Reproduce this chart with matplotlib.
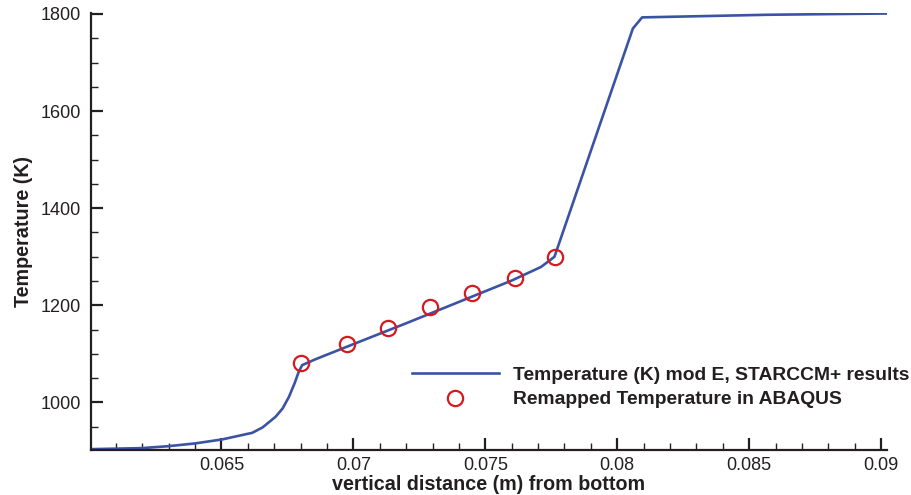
import numpy as np
import matplotlib
matplotlib.use("Agg")
import matplotlib.pyplot as plt
from matplotlib.ticker import MultipleLocator, FuncFormatter

plt.rcParams['font.family'] = ['Liberation Sans', 'DejaVu Sans']

# STARCCM+ temperature profile
dist = [0.06009, 0.06199, 0.06300, 0.06401, 0.06503, 0.06617, 0.06656,
        0.06705, 0.06732, 0.06756, 0.06777, 0.06793, 0.06806, 0.06857,
        0.07000, 0.07200, 0.07400, 0.07600, 0.07711, 0.07762, 0.08059,
        0.08094, 0.08570, 0.09022]
temp = [903.8, 905.9, 909.9, 915.6, 923.8, 937.4, 948.5,
        970.3, 987.6, 1011.5, 1039.0, 1063.0, 1076.8, 1089.0,
        1120.0, 1163.0, 1207.0, 1251.0, 1279.0, 1300.0, 1770.0,
        1793.0, 1798.4, 1801.0]

# remapped ABAQUS points
abq_dist = [0.06800, 0.06977, 0.07133, 0.07290, 0.07448, 0.07612, 0.07764]
abq_temp = [1081.6, 1120.7, 1152.4, 1196.3, 1224.5, 1256.6, 1298.7]

line_label = "Temperature (K) mod E, STARCCM+ results"
pt_label = "Remapped Temperature in ABAQUS"

txtcol = '#231f20'
fig = plt.figure(figsize=(9.12, 4.95), dpi=100)
ax = fig.add_axes([0.0998, 0.0909, 0.8728, 0.8828])

ax.plot(dist, temp, color='#3a53a4', lw=1.9, label=line_label)
ax.plot(abq_dist, abq_temp, ls='none', marker='o', ms=11, mfc='none',
        mec='#d7191f', mew=1.6, label=pt_label)

ax.set_xlim(0.06006, 0.09022)
ax.set_ylim(902, 1802)

for s in ['top', 'right']:
    ax.spines[s].set_visible(False)
for s in ['left', 'bottom']:
    ax.spines[s].set_linewidth(1.6)
    ax.spines[s].set_color(txtcol)

ax.xaxis.set_major_locator(MultipleLocator(0.005))
ax.xaxis.set_minor_locator(MultipleLocator(0.001))
ax.yaxis.set_major_locator(MultipleLocator(200))
ax.yaxis.set_minor_locator(MultipleLocator(50))
ax.xaxis.set_major_formatter(FuncFormatter(lambda v, p: ('%g' % round(v, 4))))

ax.tick_params(which='both', direction='in', colors=txtcol, labelsize=13,
               labelcolor=txtcol)
ax.tick_params(which='major', length=8.5, width=1.6)
ax.tick_params(which='minor', length=5, width=1.0)
ax.tick_params(axis='x', which='major', pad=5)
ax.tick_params(axis='y', which='major', pad=7)

ax.set_xlabel("vertical distance (m) from bottom", fontsize=14.2,
              fontweight='bold', color=txtcol, labelpad=1)
ax.set_ylabel("Temperature (K)", fontsize=14.2, fontweight='bold',
              color=txtcol, labelpad=6)

leg = ax.legend(loc='upper left', bbox_to_anchor=(0.403, 0.191), frameon=False,
                fontsize=13.9, handlelength=4.5, handletextpad=0.75,
                labelspacing=0.35, borderaxespad=0, borderpad=0)
for t in leg.get_texts():
    t.set_fontweight('bold')
    t.set_color(txtcol)

fig.savefig("out.png", dpi=100)
